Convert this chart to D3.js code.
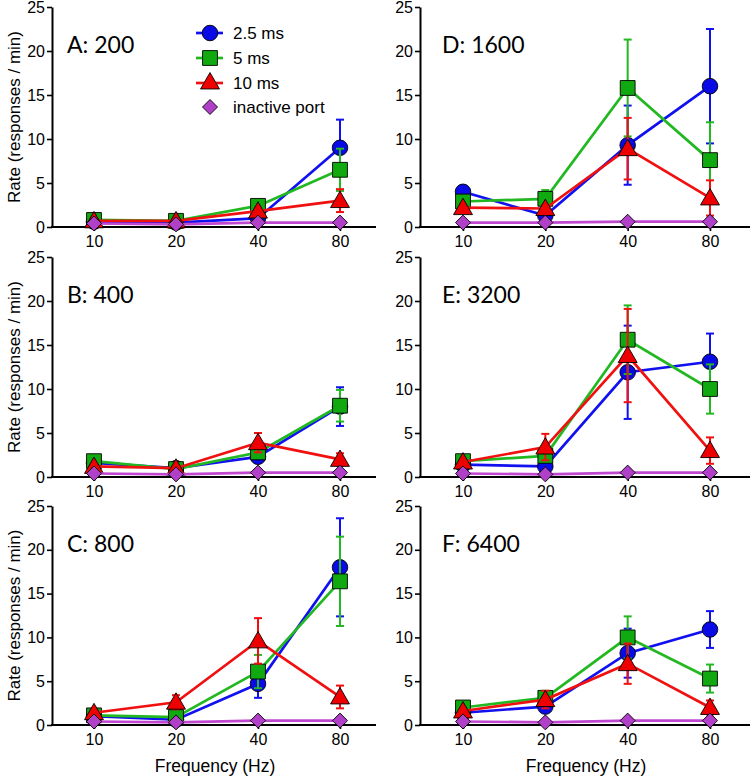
<!DOCTYPE html>
<html>
<head>
<meta charset="utf-8">
<script src="https://cdn.jsdelivr.net/npm/d3@7"></script>
<style>
  html, body { margin: 0; padding: 0; background: #fff; }
  svg { display: block; }
  text { font-family: "Liberation Sans", Arial, sans-serif; fill: #000; }
</style>
</head>
<body>
<svg id="chart" width="754" height="778"></svg>
<script>
// ---------------- data ----------------
const freqs = ["10", "20", "40", "80"];
const panelLabels = ["A: 200", "B: 400", "C: 800", "D: 1600", "E: 3200", "F: 6400"];
const yTicks = [0, 5, 10, 15, 20, 25];
const seriesNames = ["2.5 ms", "5 ms", "10 ms", "inactive port"];

// means per panel (A..F), per frequency (10,20,40,80)
const ms25 = [
  [0.6, 0.5, 1.0, 9.0],
  [1.6, 1.0, 2.3, 8.0],
  [1.0, 0.6, 4.7, 18.0],
  [4.0, 1.3, 9.3, 16.0],
  [1.4, 1.2, 11.9, 13.1],
  [1.4, 2.1, 8.2, 10.9]
];
const ms25Err = [
  [0.3, 0.2, 0.5, 3.2],
  [0.3, 0.2, 0.7, 2.2],
  [0.3, 0.2, 1.6, 5.6],
  [0.6, 0.4, 4.5, 6.5],
  [0.3, 0.3, 5.3, 3.2],
  [0.3, 0.4, 2.8, 2.1]
];
const ms5 = [
  [0.8, 0.7, 2.4, 6.5],
  [1.8, 0.9, 2.8, 8.1],
  [1.1, 0.9, 6.1, 16.4],
  [2.9, 3.2, 15.8, 7.6],
  [1.8, 2.4, 15.6, 10.0],
  [2.0, 3.1, 10.0, 5.3]
];
const ms5Err = [
  [0.3, 0.2, 0.4, 2.4],
  [0.3, 0.2, 0.6, 1.8],
  [0.3, 0.3, 1.9, 5.1],
  [0.5, 1.0, 5.5, 4.3],
  [0.3, 0.5, 3.9, 2.8],
  [0.3, 0.8, 2.4, 1.6]
];
const ms10 = [
  [0.7, 0.7, 1.8, 3.0],
  [1.2, 1.0, 3.9, 2.0],
  [1.4, 2.6, 9.6, 3.2],
  [2.2, 2.1, 8.9, 3.3],
  [1.7, 3.4, 13.8, 3.0],
  [1.6, 2.9, 7.0, 2.0]
];
const ms10Err = [
  [0.2, 0.2, 0.4, 1.3],
  [0.3, 0.2, 1.1, 0.7],
  [0.3, 0.8, 2.6, 1.3],
  [0.4, 0.4, 3.5, 2.0],
  [0.3, 1.5, 5.3, 1.5],
  [0.3, 1.0, 2.3, 0.8]
];
const inactive = [
  [0.4, 0.3, 0.5, 0.5],
  [0.4, 0.3, 0.5, 0.5],
  [0.4, 0.3, 0.5, 0.5],
  [0.5, 0.5, 0.6, 0.6],
  [0.4, 0.3, 0.5, 0.5],
  [0.4, 0.3, 0.5, 0.5]
];
const inactiveErr = [
  [0, 0, 0, 0], [0, 0, 0, 0], [0, 0, 0, 0],
  [0, 0, 0, 0], [0, 0, 0, 0], [0, 0, 0, 0]
];

// ---------------- styling / layout ----------------
const series = [
  { name: seriesNames[0], means: ms25, errs: ms25Err, line: "#1010f0", fill: "#0a0ae6", shape: "circle" },
  { name: seriesNames[1], means: ms5, errs: ms5Err, line: "#22b822", fill: "#10aa10", shape: "square" },
  { name: seriesNames[2], means: ms10, errs: ms10Err, line: "#f01010", fill: "#ee0000", shape: "triangle" },
  { name: seriesNames[3], means: inactive, errs: inactiveErr, line: "#c048d0", fill: "#b040c8", shape: "diamond" }
];

const cols = [
  { axisX: 52, x0: 94, x1: 340, xEnd: 376, titleX: 67 },
  { axisX: 420, x0: 463, x1: 710, xEnd: 750, titleX: 442 }
];
const rows = [
  { top: 7, bottom: 227 },
  { top: 257, bottom: 477 },
  { top: 506, bottom: 725 }
];

const svg = d3.select("#chart");

function markerPath(shape) {
  if (shape === "diamond") {
    const r = 7.5;
    const pth = d3.path();
    pth.moveTo(0, -r); pth.lineTo(r, 0); pth.lineTo(0, r); pth.lineTo(-r, 0); pth.closePath();
    return pth.toString();
  }
  const sym = {
    circle: d3.symbolCircle,
    square: d3.symbolSquare,
    triangle: d3.symbolTriangle
  }[shape];
  const size = { circle: 190, square: 220, triangle: 155 }[shape];
  return d3.symbol().type(sym).size(size)();
}

function drawMarker(g, shape, fill, x, y) {
  const p = g.append("path")
    .attr("d", markerPath(shape))
    .attr("fill", fill)
    .attr("stroke", "#000")
    .attr("stroke-width", 0.9);
  if (shape === "triangle") p.attr("transform", `translate(${x},${y + 1.5})`);
  else p.attr("transform", `translate(${x},${y})`);
}

for (let p = 0; p < 6; p++) {
  const col = cols[Math.floor(p / 3)];
  const row = rows[p % 3];
  const g = svg.append("g");

  const x = d3.scalePoint().domain(freqs).range([col.x0, col.x1]);
  const y = d3.scaleLinear().domain([0, 25]).range([row.bottom, row.top]);

  // y axis
  const yAxis = g.append("g")
    .attr("transform", `translate(${col.axisX},0)`)
    .call(d3.axisLeft(y).tickValues(yTicks).tickSize(5).tickSizeOuter(0).tickPadding(2));
  yAxis.select(".domain").attr("stroke", "#000").attr("stroke-width", 2);
  yAxis.selectAll(".tick line").attr("stroke", "#000").attr("stroke-width", 1.6);
  yAxis.selectAll(".tick text").attr("font-size", 16).attr("font-family", "Liberation Sans, Arial, sans-serif").attr("fill", "#000");

  // x axis
  const xAxis = g.append("g")
    .attr("transform", `translate(0,${row.bottom})`)
    .call(d3.axisBottom(x).tickSize(4).tickSizeOuter(0).tickPadding(5));
  xAxis.select(".domain").remove();
  xAxis.selectAll(".tick line").attr("stroke", "#000").attr("stroke-width", 1.6);
  xAxis.selectAll(".tick text").attr("font-size", 16).attr("font-family", "Liberation Sans, Arial, sans-serif").attr("fill", "#000");
  g.append("line")
    .attr("x1", col.axisX - 1).attr("x2", col.xEnd)
    .attr("y1", row.bottom).attr("y2", row.bottom)
    .attr("stroke", "#000").attr("stroke-width", 2);

  // title
  g.append("text")
    .attr("x", col.titleX).attr("y", row.top + 46)
    .attr("font-size", 23)
    .style("font-family", "Lato, 'Open Sans', sans-serif")
    .text(panelLabels[p]);

  // series
  const line = d3.line().x((d, i) => x(freqs[i])).y(d => y(d));
  series.forEach(s => {
    const m = s.means[p];
    const e = s.errs[p];
    const sg = g.append("g");
    sg.append("path")
      .attr("d", line(m))
      .attr("fill", "none")
      .attr("stroke", s.line)
      .attr("stroke-width", 2.7);
    m.forEach((v, i) => {
      if (e[i] <= 0) return;
      const cx = x(freqs[i]);
      const yHi = y(v + e[i]);
      const yLo = y(Math.max(0, v - e[i]));
      sg.append("line").attr("x1", cx).attr("x2", cx).attr("y1", yHi).attr("y2", yLo)
        .attr("stroke", s.line).attr("stroke-width", 2);
      [yHi, yLo].forEach(yy => {
        sg.append("line").attr("x1", cx - 4).attr("x2", cx + 4).attr("y1", yy).attr("y2", yy)
          .attr("stroke", s.line).attr("stroke-width", 2);
      });
    });
    m.forEach((v, i) => drawMarker(sg, s.shape, s.fill, x(freqs[i]), y(v)));
  });

  // y label on left column
  if (col === cols[0]) {
    const cy = (row.top + row.bottom) / 2;
    g.append("text")
      .attr("transform", `translate(20,${cy}) rotate(-90)`)
      .attr("text-anchor", "middle")
      .attr("font-size", 17)
      .text("Rate (responses / min)");
  }
  // x label on bottom row
  if (row === rows[2]) {
    g.append("text")
      .attr("x", (col.axisX + col.xEnd) / 2 + 1)
      .attr("y", 772)
      .attr("text-anchor", "middle")
      .attr("font-size", 17.5)
      .text("Frequency (Hz)");
  }
}

// legend (inside panel A)
const legend = svg.append("g");
const legendY = [33, 58, 83, 107];
series.forEach((s, i) => {
  const ly = legendY[i];
  if (i < 3) {
    legend.append("line")
      .attr("x1", 196).attr("x2", 223).attr("y1", ly).attr("y2", ly)
      .attr("stroke", s.line).attr("stroke-width", 2.7);
  }
  drawMarker(legend, s.shape, s.fill, 210, i === 2 ? ly - 1 : ly);
  legend.append("text")
    .attr("x", 233).attr("y", ly + 6)
    .attr("font-size", 17)
    .text(s.name);
});
</script>
</body>
</html>
